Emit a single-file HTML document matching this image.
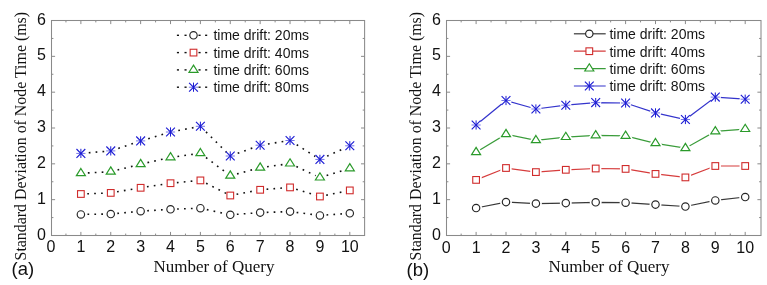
<!DOCTYPE html>
<html><head><meta charset="utf-8"><style>
html,body{margin:0;padding:0;background:#fff;}
svg{display:block;will-change:transform;}

.t{font-family:"Liberation Sans",sans-serif;font-size:16px;fill:#111;}
.lg{font-family:"Liberation Sans",sans-serif;font-size:14px;fill:#151515;}
.ti{font-family:"Liberation Serif",serif;fill:#111;}
.pl{font-family:"Liberation Sans",sans-serif;font-size:18.5px;fill:#111;}
</style></head><body>
<svg width="767" height="285" viewBox="0 0 767 285">
<rect width="767" height="285" fill="#fff"/>
<path d="M65.94,235.5v-1.9M65.94,20.5v1.9M80.88,235.5v-3.6M80.88,20.5v3.6M95.82,235.5v-1.9M95.82,20.5v1.9M110.76,235.5v-3.6M110.76,20.5v3.6M125.70,235.5v-1.9M125.70,20.5v1.9M140.64,235.5v-3.6M140.64,20.5v3.6M155.58,235.5v-1.9M155.58,20.5v1.9M170.52,235.5v-3.6M170.52,20.5v3.6M185.46,235.5v-1.9M185.46,20.5v1.9M200.40,235.5v-3.6M200.40,20.5v3.6M215.34,235.5v-1.9M215.34,20.5v1.9M230.28,235.5v-3.6M230.28,20.5v3.6M245.22,235.5v-1.9M245.22,20.5v1.9M260.16,235.5v-3.6M260.16,20.5v3.6M275.10,235.5v-1.9M275.10,20.5v1.9M290.04,235.5v-3.6M290.04,20.5v3.6M304.98,235.5v-1.9M304.98,20.5v1.9M319.92,235.5v-3.6M319.92,20.5v3.6M334.86,235.5v-1.9M334.86,20.5v1.9M349.80,235.5v-3.6M349.80,20.5v3.6M51.5,217.59h1.9M364.6,217.59h-1.9M51.5,199.67h3.6M364.6,199.67h-3.6M51.5,181.75h1.9M364.6,181.75h-1.9M51.5,163.84h3.6M364.6,163.84h-3.6M51.5,145.93h1.9M364.6,145.93h-1.9M51.5,128.01h3.6M364.6,128.01h-3.6M51.5,110.09h1.9M364.6,110.09h-1.9M51.5,92.18h3.6M364.6,92.18h-3.6M51.5,74.27h1.9M364.6,74.27h-1.9M51.5,56.35h3.6M364.6,56.35h-3.6M51.5,38.44h1.9M364.6,38.44h-1.9" stroke="#8a8a8a" stroke-width="1" fill="none"/>
<rect x="51.5" y="20.5" width="313.10" height="215.00" fill="none" stroke="#8a8a8a" stroke-width="1.05"/>
<text class="t" x="51.00" y="252.1" text-anchor="middle">0</text>
<text class="t" x="80.88" y="252.1" text-anchor="middle">1</text>
<text class="t" x="110.76" y="252.1" text-anchor="middle">2</text>
<text class="t" x="140.64" y="252.1" text-anchor="middle">3</text>
<text class="t" x="170.52" y="252.1" text-anchor="middle">4</text>
<text class="t" x="200.40" y="252.1" text-anchor="middle">5</text>
<text class="t" x="230.28" y="252.1" text-anchor="middle">6</text>
<text class="t" x="260.16" y="252.1" text-anchor="middle">7</text>
<text class="t" x="290.04" y="252.1" text-anchor="middle">8</text>
<text class="t" x="319.92" y="252.1" text-anchor="middle">9</text>
<text class="t" x="349.80" y="252.1" text-anchor="middle">10</text>
<text class="t" x="45.90" y="239.50" text-anchor="end">0</text>
<text class="t" x="45.90" y="203.67" text-anchor="end">1</text>
<text class="t" x="45.90" y="167.84" text-anchor="end">2</text>
<text class="t" x="45.90" y="132.01" text-anchor="end">3</text>
<text class="t" x="45.90" y="96.18" text-anchor="end">4</text>
<text class="t" x="45.90" y="60.35" text-anchor="end">5</text>
<text class="t" x="45.90" y="24.52" text-anchor="end">6</text>
<text class="ti" style="font-size:17px" x="214" y="272.3" text-anchor="middle">Number of Query</text>
<text class="ti" style="font-size:15.9px" transform="translate(26.4,136.2) rotate(-90)" text-anchor="middle">Standard Deviation of Node Time (ms)</text>
<text class="pl" x="11.5" y="275">(a)</text>
<g stroke="#111" stroke-width="1.6" stroke-dasharray="1.7 5.2" stroke-dashoffset="4.5"><line x1="85.08" y1="214.34" x2="106.56" y2="214.06"/><line x1="114.94" y1="213.61" x2="136.46" y2="211.59"/><line x1="144.83" y1="210.93" x2="166.33" y2="209.57"/><line x1="174.72" y1="209.15" x2="196.20" y2="208.35"/><line x1="204.50" y1="209.11" x2="226.18" y2="213.89"/><line x1="234.47" y1="214.49" x2="255.97" y2="212.91"/><line x1="264.36" y1="212.46" x2="285.84" y2="211.74"/><line x1="294.21" y1="212.13" x2="315.75" y2="214.87"/><line x1="324.11" y1="215.11" x2="345.61" y2="213.59"/></g>
<circle cx="80.88" cy="214.40" r="3.7" fill="#fff" stroke="#262626" stroke-width="1.15"/><circle cx="110.76" cy="214.00" r="3.7" fill="#fff" stroke="#262626" stroke-width="1.15"/><circle cx="140.64" cy="211.20" r="3.7" fill="#fff" stroke="#262626" stroke-width="1.15"/><circle cx="170.52" cy="209.30" r="3.7" fill="#fff" stroke="#262626" stroke-width="1.15"/><circle cx="200.40" cy="208.20" r="3.7" fill="#fff" stroke="#262626" stroke-width="1.15"/><circle cx="230.28" cy="214.80" r="3.7" fill="#fff" stroke="#262626" stroke-width="1.15"/><circle cx="260.16" cy="212.60" r="3.7" fill="#fff" stroke="#262626" stroke-width="1.15"/><circle cx="290.04" cy="211.60" r="3.7" fill="#fff" stroke="#262626" stroke-width="1.15"/><circle cx="319.92" cy="215.40" r="3.7" fill="#fff" stroke="#262626" stroke-width="1.15"/><circle cx="349.80" cy="213.30" r="3.7" fill="#fff" stroke="#262626" stroke-width="1.15"/>
<g stroke="#111" stroke-width="1.6" stroke-dasharray="1.7 5.2" stroke-dashoffset="4.5"><line x1="84.88" y1="193.85" x2="106.76" y2="193.05"/><line x1="114.70" y1="192.23" x2="136.70" y2="188.47"/><line x1="144.59" y1="187.19" x2="166.57" y2="183.81"/><line x1="174.50" y1="182.83" x2="196.42" y2="180.77"/><line x1="203.97" y1="182.20" x2="226.71" y2="193.70"/><line x1="234.21" y1="194.75" x2="256.23" y2="190.55"/><line x1="264.15" y1="189.48" x2="286.05" y2="187.72"/><line x1="293.87" y1="188.57" x2="316.09" y2="195.33"/><line x1="323.84" y1="195.70" x2="345.88" y2="191.20"/></g>
<rect x="77.53" y="190.65" width="6.70" height="6.70" fill="#fff" stroke="#d02c2c" stroke-width="1.1"/><rect x="107.41" y="189.55" width="6.70" height="6.70" fill="#fff" stroke="#d02c2c" stroke-width="1.1"/><rect x="137.29" y="184.45" width="6.70" height="6.70" fill="#fff" stroke="#d02c2c" stroke-width="1.1"/><rect x="167.17" y="179.85" width="6.70" height="6.70" fill="#fff" stroke="#d02c2c" stroke-width="1.1"/><rect x="197.05" y="177.05" width="6.70" height="6.70" fill="#fff" stroke="#d02c2c" stroke-width="1.1"/><rect x="226.93" y="192.15" width="6.70" height="6.70" fill="#fff" stroke="#d02c2c" stroke-width="1.1"/><rect x="256.81" y="186.45" width="6.70" height="6.70" fill="#fff" stroke="#d02c2c" stroke-width="1.1"/><rect x="286.69" y="184.05" width="6.70" height="6.70" fill="#fff" stroke="#d02c2c" stroke-width="1.1"/><rect x="316.57" y="193.15" width="6.70" height="6.70" fill="#fff" stroke="#d02c2c" stroke-width="1.1"/><rect x="346.45" y="187.05" width="6.70" height="6.70" fill="#fff" stroke="#d02c2c" stroke-width="1.1"/>
<g stroke="#111" stroke-width="1.6" stroke-dasharray="1.7 5.2" stroke-dashoffset="4.5"><line x1="85.47" y1="173.05" x2="106.17" y2="171.95"/><line x1="115.22" y1="170.58" x2="136.18" y2="165.32"/><line x1="145.13" y1="163.18" x2="166.03" y2="158.42"/><line x1="175.08" y1="156.77" x2="195.84" y2="153.93"/><line x1="204.08" y1="156.06" x2="226.60" y2="172.94"/><line x1="234.72" y1="174.51" x2="255.72" y2="168.89"/><line x1="264.72" y1="167.07" x2="285.48" y2="164.23"/><line x1="294.21" y1="165.55" x2="315.75" y2="175.65"/><line x1="324.32" y1="176.25" x2="345.40" y2="169.75"/></g>
<path d="M80.88,168.50L85.38,175.70L76.38,175.70Z" fill="#fff" stroke="#2a9a2a" stroke-width="1.2" stroke-linejoin="miter"/><path d="M110.76,166.90L115.26,174.10L106.26,174.10Z" fill="#fff" stroke="#2a9a2a" stroke-width="1.2" stroke-linejoin="miter"/><path d="M140.64,159.40L145.14,166.60L136.14,166.60Z" fill="#fff" stroke="#2a9a2a" stroke-width="1.2" stroke-linejoin="miter"/><path d="M170.52,152.60L175.02,159.80L166.02,159.80Z" fill="#fff" stroke="#2a9a2a" stroke-width="1.2" stroke-linejoin="miter"/><path d="M200.40,148.50L204.90,155.70L195.90,155.70Z" fill="#fff" stroke="#2a9a2a" stroke-width="1.2" stroke-linejoin="miter"/><path d="M230.28,170.90L234.78,178.10L225.78,178.10Z" fill="#fff" stroke="#2a9a2a" stroke-width="1.2" stroke-linejoin="miter"/><path d="M260.16,162.90L264.66,170.10L255.66,170.10Z" fill="#fff" stroke="#2a9a2a" stroke-width="1.2" stroke-linejoin="miter"/><path d="M290.04,158.80L294.54,166.00L285.54,166.00Z" fill="#fff" stroke="#2a9a2a" stroke-width="1.2" stroke-linejoin="miter"/><path d="M319.92,172.80L324.42,180.00L315.42,180.00Z" fill="#fff" stroke="#2a9a2a" stroke-width="1.2" stroke-linejoin="miter"/><path d="M349.80,163.60L354.30,170.80L345.30,170.80Z" fill="#fff" stroke="#2a9a2a" stroke-width="1.2" stroke-linejoin="miter"/>
<g stroke="#111" stroke-width="1.6" stroke-dasharray="1.7 5.2" stroke-dashoffset="4.5"><line x1="86.36" y1="152.94" x2="105.28" y2="151.36"/><line x1="115.98" y1="149.15" x2="135.42" y2="142.65"/><line x1="145.91" y1="139.33" x2="165.25" y2="133.57"/><line x1="175.92" y1="130.97" x2="195.00" y2="127.33"/><line x1="204.30" y1="130.18" x2="226.38" y2="152.12"/><line x1="235.45" y1="154.13" x2="254.99" y2="147.07"/><line x1="265.59" y1="144.35" x2="284.61" y2="141.35"/><line x1="294.69" y1="143.44" x2="315.27" y2="156.46"/><line x1="324.93" y1="157.12" x2="344.79" y2="148.08"/></g>
<path d="M76.28,153.40H85.48" stroke="#4848e0" stroke-width="1.0" opacity="0.75"/><path d="M80.88,148.80V158.00" stroke="#1c1cd4" stroke-width="1.0"/><path d="M76.48,149.00L85.28,157.80M85.28,149.00L76.48,157.80" stroke="#1c1cd4" stroke-width="1.15"/><path d="M106.16,150.90H115.36" stroke="#4848e0" stroke-width="1.0" opacity="0.75"/><path d="M110.76,146.30V155.50" stroke="#1c1cd4" stroke-width="1.0"/><path d="M106.36,146.50L115.16,155.30M115.16,146.50L106.36,155.30" stroke="#1c1cd4" stroke-width="1.15"/><path d="M136.04,140.90H145.24" stroke="#4848e0" stroke-width="1.0" opacity="0.75"/><path d="M140.64,136.30V145.50" stroke="#1c1cd4" stroke-width="1.0"/><path d="M136.24,136.50L145.04,145.30M145.04,136.50L136.24,145.30" stroke="#1c1cd4" stroke-width="1.15"/><path d="M165.92,132.00H175.12" stroke="#4848e0" stroke-width="1.0" opacity="0.75"/><path d="M170.52,127.40V136.60" stroke="#1c1cd4" stroke-width="1.0"/><path d="M166.12,127.60L174.92,136.40M174.92,127.60L166.12,136.40" stroke="#1c1cd4" stroke-width="1.15"/><path d="M195.80,126.30H205.00" stroke="#4848e0" stroke-width="1.0" opacity="0.75"/><path d="M200.40,121.70V130.90" stroke="#1c1cd4" stroke-width="1.0"/><path d="M196.00,121.90L204.80,130.70M204.80,121.90L196.00,130.70" stroke="#1c1cd4" stroke-width="1.15"/><path d="M225.68,156.00H234.88" stroke="#4848e0" stroke-width="1.0" opacity="0.75"/><path d="M230.28,151.40V160.60" stroke="#1c1cd4" stroke-width="1.0"/><path d="M225.88,151.60L234.68,160.40M234.68,151.60L225.88,160.40" stroke="#1c1cd4" stroke-width="1.15"/><path d="M255.56,145.20H264.76" stroke="#4848e0" stroke-width="1.0" opacity="0.75"/><path d="M260.16,140.60V149.80" stroke="#1c1cd4" stroke-width="1.0"/><path d="M255.76,140.80L264.56,149.60M264.56,140.80L255.76,149.60" stroke="#1c1cd4" stroke-width="1.15"/><path d="M285.44,140.50H294.64" stroke="#4848e0" stroke-width="1.0" opacity="0.75"/><path d="M290.04,135.90V145.10" stroke="#1c1cd4" stroke-width="1.0"/><path d="M285.64,136.10L294.44,144.90M294.44,136.10L285.64,144.90" stroke="#1c1cd4" stroke-width="1.15"/><path d="M315.32,159.40H324.52" stroke="#4848e0" stroke-width="1.0" opacity="0.75"/><path d="M319.92,154.80V164.00" stroke="#1c1cd4" stroke-width="1.0"/><path d="M315.52,155.00L324.32,163.80M324.32,155.00L315.52,163.80" stroke="#1c1cd4" stroke-width="1.15"/><path d="M345.20,145.80H354.40" stroke="#4848e0" stroke-width="1.0" opacity="0.75"/><path d="M349.80,141.20V150.40" stroke="#1c1cd4" stroke-width="1.0"/><path d="M345.40,141.40L354.20,150.20M354.20,141.40L345.40,150.20" stroke="#1c1cd4" stroke-width="1.15"/>
<rect x="176.90" y="34.60" width="2.1" height="1.4" fill="#111"/><rect x="184.50" y="34.60" width="2.1" height="1.4" fill="#111"/><rect x="198.50" y="34.60" width="2.1" height="1.4" fill="#111"/><rect x="205.10" y="34.60" width="2.1" height="1.4" fill="#111"/>
<circle cx="193.50" cy="35.30" r="3.7" fill="#fff" stroke="#262626" stroke-width="1.15"/>
<text class="lg" x="213.40" y="40.20">time drift: 20ms</text>
<rect x="176.90" y="51.90" width="2.1" height="1.4" fill="#111"/><rect x="184.50" y="51.90" width="2.1" height="1.4" fill="#111"/><rect x="198.50" y="51.90" width="2.1" height="1.4" fill="#111"/><rect x="205.10" y="51.90" width="2.1" height="1.4" fill="#111"/>
<rect x="190.15" y="49.25" width="6.70" height="6.70" fill="#fff" stroke="#d02c2c" stroke-width="1.1"/>
<text class="lg" x="213.40" y="57.50">time drift: 40ms</text>
<rect x="176.90" y="69.20" width="2.1" height="1.4" fill="#111"/><rect x="184.50" y="69.20" width="2.1" height="1.4" fill="#111"/><rect x="198.50" y="69.20" width="2.1" height="1.4" fill="#111"/><rect x="205.10" y="69.20" width="2.1" height="1.4" fill="#111"/>
<path d="M193.50,65.10L198.00,72.30L189.00,72.30Z" fill="#fff" stroke="#2a9a2a" stroke-width="1.2" stroke-linejoin="miter"/>
<text class="lg" x="213.40" y="74.80">time drift: 60ms</text>
<rect x="176.90" y="86.50" width="2.1" height="1.4" fill="#111"/><rect x="184.50" y="86.50" width="2.1" height="1.4" fill="#111"/><rect x="198.50" y="86.50" width="2.1" height="1.4" fill="#111"/><rect x="205.10" y="86.50" width="2.1" height="1.4" fill="#111"/>
<path d="M188.90,87.20H198.10" stroke="#4848e0" stroke-width="1.0" opacity="0.75"/><path d="M193.50,82.60V91.80" stroke="#1c1cd4" stroke-width="1.0"/><path d="M189.10,82.80L197.90,91.60M197.90,82.80L189.10,91.60" stroke="#1c1cd4" stroke-width="1.15"/>
<text class="lg" x="213.40" y="92.10">time drift: 80ms</text>
<path d="M461.15,235.5v-1.9M461.15,20.5v1.9M476.10,235.5v-3.6M476.10,20.5v3.6M491.05,235.5v-1.9M491.05,20.5v1.9M506.00,235.5v-3.6M506.00,20.5v3.6M520.95,235.5v-1.9M520.95,20.5v1.9M535.90,235.5v-3.6M535.90,20.5v3.6M550.85,235.5v-1.9M550.85,20.5v1.9M565.80,235.5v-3.6M565.80,20.5v3.6M580.75,235.5v-1.9M580.75,20.5v1.9M595.70,235.5v-3.6M595.70,20.5v3.6M610.65,235.5v-1.9M610.65,20.5v1.9M625.60,235.5v-3.6M625.60,20.5v3.6M640.55,235.5v-1.9M640.55,20.5v1.9M655.50,235.5v-3.6M655.50,20.5v3.6M670.45,235.5v-1.9M670.45,20.5v1.9M685.40,235.5v-3.6M685.40,20.5v3.6M700.35,235.5v-1.9M700.35,20.5v1.9M715.30,235.5v-3.6M715.30,20.5v3.6M730.25,235.5v-1.9M730.25,20.5v1.9M745.20,235.5v-3.6M745.20,20.5v3.6M446.5,217.59h1.9M761.0,217.59h-1.9M446.5,199.67h3.6M761.0,199.67h-3.6M446.5,181.75h1.9M761.0,181.75h-1.9M446.5,163.84h3.6M761.0,163.84h-3.6M446.5,145.93h1.9M761.0,145.93h-1.9M446.5,128.01h3.6M761.0,128.01h-3.6M446.5,110.09h1.9M761.0,110.09h-1.9M446.5,92.18h3.6M761.0,92.18h-3.6M446.5,74.27h1.9M761.0,74.27h-1.9M446.5,56.35h3.6M761.0,56.35h-3.6M446.5,38.44h1.9M761.0,38.44h-1.9" stroke="#8a8a8a" stroke-width="1" fill="none"/>
<rect x="446.5" y="20.5" width="314.50" height="215.00" fill="none" stroke="#8a8a8a" stroke-width="1.05"/>
<text class="t" x="446.20" y="252.6" text-anchor="middle">0</text>
<text class="t" x="476.10" y="252.6" text-anchor="middle">1</text>
<text class="t" x="506.00" y="252.6" text-anchor="middle">2</text>
<text class="t" x="535.90" y="252.6" text-anchor="middle">3</text>
<text class="t" x="565.80" y="252.6" text-anchor="middle">4</text>
<text class="t" x="595.70" y="252.6" text-anchor="middle">5</text>
<text class="t" x="625.60" y="252.6" text-anchor="middle">6</text>
<text class="t" x="655.50" y="252.6" text-anchor="middle">7</text>
<text class="t" x="685.40" y="252.6" text-anchor="middle">8</text>
<text class="t" x="715.30" y="252.6" text-anchor="middle">9</text>
<text class="t" x="745.20" y="252.6" text-anchor="middle">10</text>
<text class="t" x="440.90" y="239.50" text-anchor="end">0</text>
<text class="t" x="440.90" y="203.67" text-anchor="end">1</text>
<text class="t" x="440.90" y="167.84" text-anchor="end">2</text>
<text class="t" x="440.90" y="132.01" text-anchor="end">3</text>
<text class="t" x="440.90" y="96.18" text-anchor="end">4</text>
<text class="t" x="440.90" y="60.35" text-anchor="end">5</text>
<text class="t" x="440.90" y="24.52" text-anchor="end">6</text>
<text class="ti" style="font-size:17px" x="609" y="272.3" text-anchor="middle">Number of Query</text>
<text class="ti" style="font-size:15.9px" transform="translate(421.4,136.2) rotate(-90)" text-anchor="middle">Standard Deviation of Node Time (ms)</text>
<text class="pl" x="406.5" y="275.8">(b)</text>
<polyline points="476.10,208.00 506.00,202.10 535.90,203.60 565.80,203.10 595.70,202.30 625.60,202.70 655.50,204.60 685.40,206.50 715.30,200.40 745.20,197.00" fill="none" stroke="#383838" stroke-width="1.2"/>
<circle cx="476.10" cy="208.00" r="3.7" fill="#fff" stroke="#fff" stroke-width="4.6"/><circle cx="476.10" cy="208.00" r="3.7" fill="#fff" stroke="#262626" stroke-width="1.15"/><circle cx="506.00" cy="202.10" r="3.7" fill="#fff" stroke="#fff" stroke-width="4.6"/><circle cx="506.00" cy="202.10" r="3.7" fill="#fff" stroke="#262626" stroke-width="1.15"/><circle cx="535.90" cy="203.60" r="3.7" fill="#fff" stroke="#fff" stroke-width="4.6"/><circle cx="535.90" cy="203.60" r="3.7" fill="#fff" stroke="#262626" stroke-width="1.15"/><circle cx="565.80" cy="203.10" r="3.7" fill="#fff" stroke="#fff" stroke-width="4.6"/><circle cx="565.80" cy="203.10" r="3.7" fill="#fff" stroke="#262626" stroke-width="1.15"/><circle cx="595.70" cy="202.30" r="3.7" fill="#fff" stroke="#fff" stroke-width="4.6"/><circle cx="595.70" cy="202.30" r="3.7" fill="#fff" stroke="#262626" stroke-width="1.15"/><circle cx="625.60" cy="202.70" r="3.7" fill="#fff" stroke="#fff" stroke-width="4.6"/><circle cx="625.60" cy="202.70" r="3.7" fill="#fff" stroke="#262626" stroke-width="1.15"/><circle cx="655.50" cy="204.60" r="3.7" fill="#fff" stroke="#fff" stroke-width="4.6"/><circle cx="655.50" cy="204.60" r="3.7" fill="#fff" stroke="#262626" stroke-width="1.15"/><circle cx="685.40" cy="206.50" r="3.7" fill="#fff" stroke="#fff" stroke-width="4.6"/><circle cx="685.40" cy="206.50" r="3.7" fill="#fff" stroke="#262626" stroke-width="1.15"/><circle cx="715.30" cy="200.40" r="3.7" fill="#fff" stroke="#fff" stroke-width="4.6"/><circle cx="715.30" cy="200.40" r="3.7" fill="#fff" stroke="#262626" stroke-width="1.15"/><circle cx="745.20" cy="197.00" r="3.7" fill="#fff" stroke="#fff" stroke-width="4.6"/><circle cx="745.20" cy="197.00" r="3.7" fill="#fff" stroke="#262626" stroke-width="1.15"/>
<polyline points="476.10,179.90 506.00,168.00 535.90,172.10 565.80,169.80 595.70,168.50 625.60,168.90 655.50,173.90 685.40,177.40 715.30,166.00 745.20,166.00" fill="none" stroke="#d63c3c" stroke-width="1.2"/>
<rect x="472.75" y="176.55" width="6.70" height="6.70" fill="#fff" stroke="#fff" stroke-width="4.6"/><rect x="472.75" y="176.55" width="6.70" height="6.70" fill="#fff" stroke="#d02c2c" stroke-width="1.1"/><rect x="502.65" y="164.65" width="6.70" height="6.70" fill="#fff" stroke="#fff" stroke-width="4.6"/><rect x="502.65" y="164.65" width="6.70" height="6.70" fill="#fff" stroke="#d02c2c" stroke-width="1.1"/><rect x="532.55" y="168.75" width="6.70" height="6.70" fill="#fff" stroke="#fff" stroke-width="4.6"/><rect x="532.55" y="168.75" width="6.70" height="6.70" fill="#fff" stroke="#d02c2c" stroke-width="1.1"/><rect x="562.45" y="166.45" width="6.70" height="6.70" fill="#fff" stroke="#fff" stroke-width="4.6"/><rect x="562.45" y="166.45" width="6.70" height="6.70" fill="#fff" stroke="#d02c2c" stroke-width="1.1"/><rect x="592.35" y="165.15" width="6.70" height="6.70" fill="#fff" stroke="#fff" stroke-width="4.6"/><rect x="592.35" y="165.15" width="6.70" height="6.70" fill="#fff" stroke="#d02c2c" stroke-width="1.1"/><rect x="622.25" y="165.55" width="6.70" height="6.70" fill="#fff" stroke="#fff" stroke-width="4.6"/><rect x="622.25" y="165.55" width="6.70" height="6.70" fill="#fff" stroke="#d02c2c" stroke-width="1.1"/><rect x="652.15" y="170.55" width="6.70" height="6.70" fill="#fff" stroke="#fff" stroke-width="4.6"/><rect x="652.15" y="170.55" width="6.70" height="6.70" fill="#fff" stroke="#d02c2c" stroke-width="1.1"/><rect x="682.05" y="174.05" width="6.70" height="6.70" fill="#fff" stroke="#fff" stroke-width="4.6"/><rect x="682.05" y="174.05" width="6.70" height="6.70" fill="#fff" stroke="#d02c2c" stroke-width="1.1"/><rect x="711.95" y="162.65" width="6.70" height="6.70" fill="#fff" stroke="#fff" stroke-width="4.6"/><rect x="711.95" y="162.65" width="6.70" height="6.70" fill="#fff" stroke="#d02c2c" stroke-width="1.1"/><rect x="741.85" y="162.65" width="6.70" height="6.70" fill="#fff" stroke="#fff" stroke-width="4.6"/><rect x="741.85" y="162.65" width="6.70" height="6.70" fill="#fff" stroke="#d02c2c" stroke-width="1.1"/>
<polyline points="476.10,152.20 506.00,134.20 535.90,140.30 565.80,137.10 595.70,135.40 625.60,135.90 655.50,143.30 685.40,148.20 715.30,131.40 745.20,129.10" fill="none" stroke="#3a9c3a" stroke-width="1.2"/>
<path d="M476.10,147.40L480.60,154.60L471.60,154.60Z" fill="#fff" stroke="#fff" stroke-width="4.6" stroke-linejoin="round"/><path d="M476.10,147.40L480.60,154.60L471.60,154.60Z" fill="#fff" stroke="#2a9a2a" stroke-width="1.2" stroke-linejoin="miter"/><path d="M506.00,129.40L510.50,136.60L501.50,136.60Z" fill="#fff" stroke="#fff" stroke-width="4.6" stroke-linejoin="round"/><path d="M506.00,129.40L510.50,136.60L501.50,136.60Z" fill="#fff" stroke="#2a9a2a" stroke-width="1.2" stroke-linejoin="miter"/><path d="M535.90,135.50L540.40,142.70L531.40,142.70Z" fill="#fff" stroke="#fff" stroke-width="4.6" stroke-linejoin="round"/><path d="M535.90,135.50L540.40,142.70L531.40,142.70Z" fill="#fff" stroke="#2a9a2a" stroke-width="1.2" stroke-linejoin="miter"/><path d="M565.80,132.30L570.30,139.50L561.30,139.50Z" fill="#fff" stroke="#fff" stroke-width="4.6" stroke-linejoin="round"/><path d="M565.80,132.30L570.30,139.50L561.30,139.50Z" fill="#fff" stroke="#2a9a2a" stroke-width="1.2" stroke-linejoin="miter"/><path d="M595.70,130.60L600.20,137.80L591.20,137.80Z" fill="#fff" stroke="#fff" stroke-width="4.6" stroke-linejoin="round"/><path d="M595.70,130.60L600.20,137.80L591.20,137.80Z" fill="#fff" stroke="#2a9a2a" stroke-width="1.2" stroke-linejoin="miter"/><path d="M625.60,131.10L630.10,138.30L621.10,138.30Z" fill="#fff" stroke="#fff" stroke-width="4.6" stroke-linejoin="round"/><path d="M625.60,131.10L630.10,138.30L621.10,138.30Z" fill="#fff" stroke="#2a9a2a" stroke-width="1.2" stroke-linejoin="miter"/><path d="M655.50,138.50L660.00,145.70L651.00,145.70Z" fill="#fff" stroke="#fff" stroke-width="4.6" stroke-linejoin="round"/><path d="M655.50,138.50L660.00,145.70L651.00,145.70Z" fill="#fff" stroke="#2a9a2a" stroke-width="1.2" stroke-linejoin="miter"/><path d="M685.40,143.40L689.90,150.60L680.90,150.60Z" fill="#fff" stroke="#fff" stroke-width="4.6" stroke-linejoin="round"/><path d="M685.40,143.40L689.90,150.60L680.90,150.60Z" fill="#fff" stroke="#2a9a2a" stroke-width="1.2" stroke-linejoin="miter"/><path d="M715.30,126.60L719.80,133.80L710.80,133.80Z" fill="#fff" stroke="#fff" stroke-width="4.6" stroke-linejoin="round"/><path d="M715.30,126.60L719.80,133.80L710.80,133.80Z" fill="#fff" stroke="#2a9a2a" stroke-width="1.2" stroke-linejoin="miter"/><path d="M745.20,124.30L749.70,131.50L740.70,131.50Z" fill="#fff" stroke="#fff" stroke-width="4.6" stroke-linejoin="round"/><path d="M745.20,124.30L749.70,131.50L740.70,131.50Z" fill="#fff" stroke="#2a9a2a" stroke-width="1.2" stroke-linejoin="miter"/>
<polyline points="476.10,125.00 506.00,100.50 535.90,109.00 565.80,105.20 595.70,102.60 625.60,103.00 655.50,112.90 685.40,119.50 715.30,97.10 745.20,99.20" fill="none" stroke="#3434cc" stroke-width="1.2"/>
<circle cx="476.10" cy="125.00" r="5.6" fill="#fff"/><path d="M471.50,125.00H480.70" stroke="#4848e0" stroke-width="1.0" opacity="0.75"/><path d="M476.10,120.40V129.60" stroke="#1c1cd4" stroke-width="1.0"/><path d="M471.70,120.60L480.50,129.40M480.50,120.60L471.70,129.40" stroke="#1c1cd4" stroke-width="1.15"/><circle cx="506.00" cy="100.50" r="5.6" fill="#fff"/><path d="M501.40,100.50H510.60" stroke="#4848e0" stroke-width="1.0" opacity="0.75"/><path d="M506.00,95.90V105.10" stroke="#1c1cd4" stroke-width="1.0"/><path d="M501.60,96.10L510.40,104.90M510.40,96.10L501.60,104.90" stroke="#1c1cd4" stroke-width="1.15"/><circle cx="535.90" cy="109.00" r="5.6" fill="#fff"/><path d="M531.30,109.00H540.50" stroke="#4848e0" stroke-width="1.0" opacity="0.75"/><path d="M535.90,104.40V113.60" stroke="#1c1cd4" stroke-width="1.0"/><path d="M531.50,104.60L540.30,113.40M540.30,104.60L531.50,113.40" stroke="#1c1cd4" stroke-width="1.15"/><circle cx="565.80" cy="105.20" r="5.6" fill="#fff"/><path d="M561.20,105.20H570.40" stroke="#4848e0" stroke-width="1.0" opacity="0.75"/><path d="M565.80,100.60V109.80" stroke="#1c1cd4" stroke-width="1.0"/><path d="M561.40,100.80L570.20,109.60M570.20,100.80L561.40,109.60" stroke="#1c1cd4" stroke-width="1.15"/><circle cx="595.70" cy="102.60" r="5.6" fill="#fff"/><path d="M591.10,102.60H600.30" stroke="#4848e0" stroke-width="1.0" opacity="0.75"/><path d="M595.70,98.00V107.20" stroke="#1c1cd4" stroke-width="1.0"/><path d="M591.30,98.20L600.10,107.00M600.10,98.20L591.30,107.00" stroke="#1c1cd4" stroke-width="1.15"/><circle cx="625.60" cy="103.00" r="5.6" fill="#fff"/><path d="M621.00,103.00H630.20" stroke="#4848e0" stroke-width="1.0" opacity="0.75"/><path d="M625.60,98.40V107.60" stroke="#1c1cd4" stroke-width="1.0"/><path d="M621.20,98.60L630.00,107.40M630.00,98.60L621.20,107.40" stroke="#1c1cd4" stroke-width="1.15"/><circle cx="655.50" cy="112.90" r="5.6" fill="#fff"/><path d="M650.90,112.90H660.10" stroke="#4848e0" stroke-width="1.0" opacity="0.75"/><path d="M655.50,108.30V117.50" stroke="#1c1cd4" stroke-width="1.0"/><path d="M651.10,108.50L659.90,117.30M659.90,108.50L651.10,117.30" stroke="#1c1cd4" stroke-width="1.15"/><circle cx="685.40" cy="119.50" r="5.6" fill="#fff"/><path d="M680.80,119.50H690.00" stroke="#4848e0" stroke-width="1.0" opacity="0.75"/><path d="M685.40,114.90V124.10" stroke="#1c1cd4" stroke-width="1.0"/><path d="M681.00,115.10L689.80,123.90M689.80,115.10L681.00,123.90" stroke="#1c1cd4" stroke-width="1.15"/><circle cx="715.30" cy="97.10" r="5.6" fill="#fff"/><path d="M710.70,97.10H719.90" stroke="#4848e0" stroke-width="1.0" opacity="0.75"/><path d="M715.30,92.50V101.70" stroke="#1c1cd4" stroke-width="1.0"/><path d="M710.90,92.70L719.70,101.50M719.70,92.70L710.90,101.50" stroke="#1c1cd4" stroke-width="1.15"/><circle cx="745.20" cy="99.20" r="5.6" fill="#fff"/><path d="M740.60,99.20H749.80" stroke="#4848e0" stroke-width="1.0" opacity="0.75"/><path d="M745.20,94.60V103.80" stroke="#1c1cd4" stroke-width="1.0"/><path d="M740.80,94.80L749.60,103.60M749.60,94.80L740.80,103.60" stroke="#1c1cd4" stroke-width="1.15"/>
<line x1="573.90" y1="33.80" x2="605.70" y2="33.80" stroke="#606060" stroke-width="1.6"/>
<circle cx="589.30" cy="33.80" r="3.7" fill="#fff" stroke="#262626" stroke-width="1.15"/>
<text class="lg" x="609.40" y="39.10">time drift: 20ms</text>
<line x1="573.90" y1="51.20" x2="605.70" y2="51.20" stroke="#d63c3c" stroke-width="1.2"/>
<rect x="585.95" y="47.85" width="6.70" height="6.70" fill="#fff" stroke="#d02c2c" stroke-width="1.1"/>
<text class="lg" x="609.40" y="56.50">time drift: 40ms</text>
<line x1="573.90" y1="68.60" x2="605.70" y2="68.60" stroke="#3a9c3a" stroke-width="1.2"/>
<path d="M589.30,63.80L593.80,71.00L584.80,71.00Z" fill="#fff" stroke="#2a9a2a" stroke-width="1.2" stroke-linejoin="miter"/>
<text class="lg" x="609.40" y="73.90">time drift: 60ms</text>
<line x1="573.90" y1="86.00" x2="605.70" y2="86.00" stroke="#3434cc" stroke-width="1.2"/>
<path d="M584.70,86.00H593.90" stroke="#4848e0" stroke-width="1.0" opacity="0.75"/><path d="M589.30,81.40V90.60" stroke="#1c1cd4" stroke-width="1.0"/><path d="M584.90,81.60L593.70,90.40M593.70,81.60L584.90,90.40" stroke="#1c1cd4" stroke-width="1.15"/>
<text class="lg" x="609.40" y="91.30">time drift: 80ms</text>
</svg></body></html>
